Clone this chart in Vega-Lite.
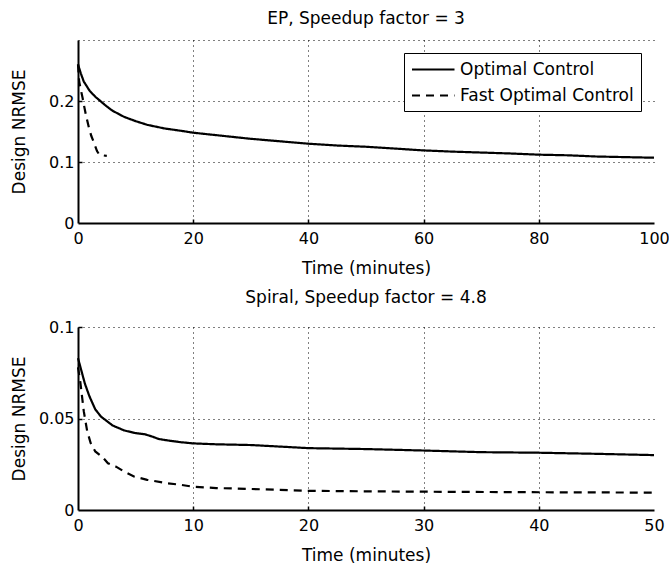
{
  "$schema": "https://vega.github.io/schema/vega-lite/v6.json",
  "background": "white",
  "padding": {"left": 10, "top": 10, "right": 0, "bottom": 0},
  "spacing": 13,
  "config": {
    "font": "DejaVu Sans",
    "view": {"stroke": null},
    "title": {"fontSize": 17, "fontWeight": "normal", "color": "black", "font": "DejaVu Sans"},
    "axis": {
      "labelFontSize": 16, "titleFontSize": 17, "titleFontWeight": "normal",
      "labelColor": "black", "titleColor": "black", "labelFont": "DejaVu Sans", "titleFont": "DejaVu Sans",
      "domainColor": "black", "domainWidth": 2,
      "tickColor": "black", "tickSize": -4, "tickWidth": 1.5,
      "gridColor": "black", "gridDash": [1, 4], "gridWidth": 1, "gridOpacity": 1,
      "labelFlush": false, "labelOverlap": false
    },
    "axisX": {"labelPadding": 11, "titlePadding": 14},
    "axisY": {"labelPadding": 8, "titlePadding": 10, "minExtent": 40, "maxExtent": 40, "format": "~g"},
    "legend": {"labelFont": "DejaVu Sans"}
  },
  "resolve": {"scale": {"strokeDash": "independent"}},
  "vconcat": [
    {
      "width": 576,
      "height": 183,
      "title": {"text": "EP, Speedup factor = 3", "offset": 4},
      "data": {"values": [
        {"series": "Optimal Control", "t": 0, "v": 0.26},
        {"series": "Optimal Control", "t": 0.5, "v": 0.245},
        {"series": "Optimal Control", "t": 1, "v": 0.232},
        {"series": "Optimal Control", "t": 2, "v": 0.217},
        {"series": "Optimal Control", "t": 3, "v": 0.207},
        {"series": "Optimal Control", "t": 4, "v": 0.199},
        {"series": "Optimal Control", "t": 5, "v": 0.191},
        {"series": "Optimal Control", "t": 6, "v": 0.184},
        {"series": "Optimal Control", "t": 8, "v": 0.174},
        {"series": "Optimal Control", "t": 10, "v": 0.167},
        {"series": "Optimal Control", "t": 12, "v": 0.161},
        {"series": "Optimal Control", "t": 15, "v": 0.155},
        {"series": "Optimal Control", "t": 18, "v": 0.151},
        {"series": "Optimal Control", "t": 20, "v": 0.148},
        {"series": "Optimal Control", "t": 25, "v": 0.143},
        {"series": "Optimal Control", "t": 30, "v": 0.138},
        {"series": "Optimal Control", "t": 35, "v": 0.134},
        {"series": "Optimal Control", "t": 40, "v": 0.130},
        {"series": "Optimal Control", "t": 45, "v": 0.127},
        {"series": "Optimal Control", "t": 50, "v": 0.125},
        {"series": "Optimal Control", "t": 55, "v": 0.122},
        {"series": "Optimal Control", "t": 60, "v": 0.119},
        {"series": "Optimal Control", "t": 65, "v": 0.117},
        {"series": "Optimal Control", "t": 70, "v": 0.1155},
        {"series": "Optimal Control", "t": 75, "v": 0.114},
        {"series": "Optimal Control", "t": 80, "v": 0.112},
        {"series": "Optimal Control", "t": 85, "v": 0.111},
        {"series": "Optimal Control", "t": 90, "v": 0.109},
        {"series": "Optimal Control", "t": 95, "v": 0.108},
        {"series": "Optimal Control", "t": 100, "v": 0.107},
        {"series": "Fast Optimal Control", "t": 0, "v": 0.26},
        {"series": "Fast Optimal Control", "t": 0.2, "v": 0.232},
        {"series": "Fast Optimal Control", "t": 0.5, "v": 0.218},
        {"series": "Fast Optimal Control", "t": 0.8, "v": 0.205},
        {"series": "Fast Optimal Control", "t": 1.1, "v": 0.19},
        {"series": "Fast Optimal Control", "t": 1.4, "v": 0.176},
        {"series": "Fast Optimal Control", "t": 1.9, "v": 0.156},
        {"series": "Fast Optimal Control", "t": 2.3, "v": 0.143},
        {"series": "Fast Optimal Control", "t": 2.8, "v": 0.131},
        {"series": "Fast Optimal Control", "t": 3.3, "v": 0.118},
        {"series": "Fast Optimal Control", "t": 3.7, "v": 0.112},
        {"series": "Fast Optimal Control", "t": 4.2, "v": 0.111},
        {"series": "Fast Optimal Control", "t": 5, "v": 0.11}
      ]},
      "mark": {"type": "line", "color": "black", "strokeWidth": 2.2},
      "encoding": {
        "x": {
          "field": "t", "type": "quantitative",
          "scale": {"domain": [0, 100], "nice": false, "zero": false},
          "axis": {
            "title": "Time (minutes)", "values": [0, 20, 40, 60, 80, 100], "grid": true,
            "gridOpacity": {"condition": {"test": "datum.value === 0 || datum.value === 100", "value": 0}, "value": 1},
            "tickOpacity": {"condition": {"test": "datum.value === 0 || datum.value === 100", "value": 0}, "value": 1}
          }
        },
        "y": {
          "field": "v", "type": "quantitative",
          "scale": {"domain": [0, 0.3], "nice": false},
          "axis": {
            "title": "Design NRMSE", "values": [0, 0.1, 0.2, 0.3], "grid": true,
            "labelExpr": "datum.value > 0.25 ? '' : datum.label",
            "gridOpacity": {"condition": {"test": "datum.value === 0", "value": 0}, "value": 1},
            "tickOpacity": {"condition": {"test": "datum.value === 0 || datum.value > 0.25", "value": 0}, "value": 1}
          }
        },
        "strokeDash": {
          "field": "series", "type": "nominal",
          "scale": {"domain": ["Optimal Control", "Fast Optimal Control"], "range": [[1, 0], [8, 6]]},
          "legend": {
            "title": null, "orient": "top-right", "offset": 13,
            "symbolType": "M-1,0H4", "symbolSize": 289, "symbolStrokeWidth": 2, "symbolStrokeColor": "black",
            "labelFontSize": 17, "labelColor": "black", "labelOffset": 30, "labelLimit": 0,
            "padding": 7, "rowPadding": 8,
            "strokeColor": "black", "fillColor": "white"
          }
        }
      }
    },
    {
      "width": 576,
      "height": 183,
      "title": {"text": "Spiral, Speedup factor = 4.8", "offset": 12},
      "data": {"values": [
        {"series": "Optimal Control", "t": 0, "v": 0.083},
        {"series": "Optimal Control", "t": 0.3, "v": 0.076},
        {"series": "Optimal Control", "t": 0.6, "v": 0.069},
        {"series": "Optimal Control", "t": 1, "v": 0.062},
        {"series": "Optimal Control", "t": 1.5, "v": 0.055},
        {"series": "Optimal Control", "t": 2, "v": 0.051},
        {"series": "Optimal Control", "t": 3, "v": 0.0462},
        {"series": "Optimal Control", "t": 4, "v": 0.0435},
        {"series": "Optimal Control", "t": 5, "v": 0.042},
        {"series": "Optimal Control", "t": 5.8, "v": 0.0414},
        {"series": "Optimal Control", "t": 6.5, "v": 0.040},
        {"series": "Optimal Control", "t": 7, "v": 0.0388},
        {"series": "Optimal Control", "t": 8, "v": 0.0378},
        {"series": "Optimal Control", "t": 9, "v": 0.037},
        {"series": "Optimal Control", "t": 10, "v": 0.0364},
        {"series": "Optimal Control", "t": 12, "v": 0.0359},
        {"series": "Optimal Control", "t": 15, "v": 0.0355},
        {"series": "Optimal Control", "t": 18, "v": 0.0345},
        {"series": "Optimal Control", "t": 20, "v": 0.0338},
        {"series": "Optimal Control", "t": 25, "v": 0.0333},
        {"series": "Optimal Control", "t": 30, "v": 0.0325},
        {"series": "Optimal Control", "t": 35, "v": 0.0316},
        {"series": "Optimal Control", "t": 40, "v": 0.0313},
        {"series": "Optimal Control", "t": 45, "v": 0.0307},
        {"series": "Optimal Control", "t": 50, "v": 0.030},
        {"series": "Fast Optimal Control", "t": 0, "v": 0.078},
        {"series": "Fast Optimal Control", "t": 0.2, "v": 0.07},
        {"series": "Fast Optimal Control", "t": 0.5, "v": 0.054},
        {"series": "Fast Optimal Control", "t": 0.8, "v": 0.043},
        {"series": "Fast Optimal Control", "t": 1.1, "v": 0.0366},
        {"series": "Fast Optimal Control", "t": 1.5, "v": 0.032},
        {"series": "Fast Optimal Control", "t": 2.1, "v": 0.0291},
        {"series": "Fast Optimal Control", "t": 2.6, "v": 0.0255},
        {"series": "Fast Optimal Control", "t": 3.3, "v": 0.0237},
        {"series": "Fast Optimal Control", "t": 4, "v": 0.021},
        {"series": "Fast Optimal Control", "t": 4.9, "v": 0.0182},
        {"series": "Fast Optimal Control", "t": 6, "v": 0.0165},
        {"series": "Fast Optimal Control", "t": 7.8, "v": 0.0146},
        {"series": "Fast Optimal Control", "t": 9, "v": 0.0137},
        {"series": "Fast Optimal Control", "t": 10, "v": 0.0127},
        {"series": "Fast Optimal Control", "t": 12, "v": 0.012},
        {"series": "Fast Optimal Control", "t": 15, "v": 0.0115},
        {"series": "Fast Optimal Control", "t": 20, "v": 0.0105},
        {"series": "Fast Optimal Control", "t": 25, "v": 0.0102},
        {"series": "Fast Optimal Control", "t": 30, "v": 0.0100},
        {"series": "Fast Optimal Control", "t": 40, "v": 0.0097},
        {"series": "Fast Optimal Control", "t": 50, "v": 0.0095}
      ]},
      "mark": {"type": "line", "color": "black", "strokeWidth": 2.2},
      "encoding": {
        "x": {
          "field": "t", "type": "quantitative",
          "scale": {"domain": [0, 50], "nice": false, "zero": false},
          "axis": {
            "title": "Time (minutes)", "values": [0, 10, 20, 30, 40, 50], "grid": true,
            "gridOpacity": {"condition": {"test": "datum.value === 0 || datum.value === 50", "value": 0}, "value": 1},
            "tickOpacity": {"condition": {"test": "datum.value === 0 || datum.value === 50", "value": 0}, "value": 1}
          }
        },
        "y": {
          "field": "v", "type": "quantitative",
          "scale": {"domain": [0, 0.1], "nice": false},
          "axis": {
            "title": "Design NRMSE", "values": [0, 0.05, 0.1], "grid": true,
            "gridOpacity": {"condition": {"test": "datum.value === 0", "value": 0}, "value": 1},
            "tickOpacity": {"condition": {"test": "datum.value === 0", "value": 0}, "value": 1}
          }
        },
        "strokeDash": {
          "field": "series", "type": "nominal",
          "scale": {"domain": ["Optimal Control", "Fast Optimal Control"], "range": [[1, 0], [8, 6]]},
          "legend": null
        }
      }
    }
  ]
}
